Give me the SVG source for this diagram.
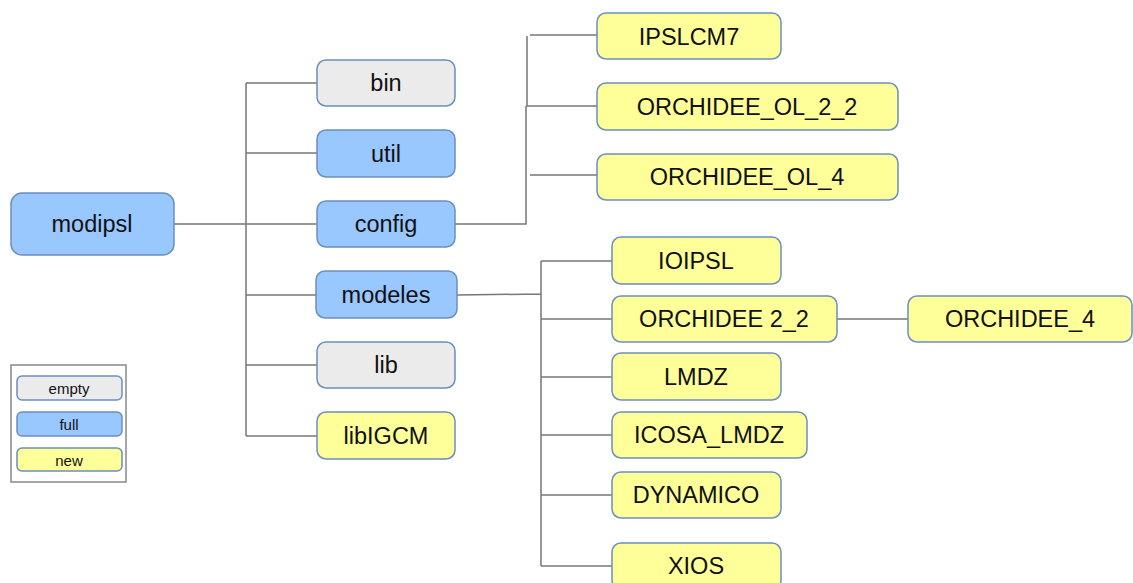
<svg xmlns="http://www.w3.org/2000/svg" width="1133" height="583" viewBox="0 0 1133 583">
<style>
.n rect{stroke:#6b8fbf;stroke-width:1.5}
.e rect{fill:#ebebeb}
.f rect{fill:#99c7ff}
.w rect{fill:#ffff99}
text{font-family:"Liberation Sans",Arial,sans-serif;font-size:23.5px;fill:#111;text-anchor:middle;dominant-baseline:central}
.lg text{font-size:15px}
#connectors path{fill:none;stroke:#777;stroke-width:1.5}
</style>
<rect width="1133" height="583" fill="#fff"/>
<g id="connectors">
<path d="M174 224H246M246 83V436M246 83H317M246 153H317M246 224H317M246 295H316M246 365H317M246 436H317"/>
<path d="M455 224H526V106M527 106V36M530 35H597M526 106H597M530 175H597"/>
<path d="M457 295L541 294M541 261V566M541 261H612M541 319H612M541 377H612M541 435H612M541 495H612M541 566H612M837 319H908"/>
</g>
<g id="modipsl" class="n f"><rect x="11" y="193" width="163" height="62" rx="11"/><text x="92" y="224">modipsl</text></g>
<g id="bin" class="n e"><rect x="317" y="60" width="138" height="46" rx="9"/><text x="386" y="83">bin</text></g>
<g id="util" class="n f"><rect x="317" y="130" width="138" height="47" rx="9"/><text x="386" y="154">util</text></g>
<g id="config" class="n f"><rect x="317" y="201" width="138" height="46" rx="9"/><text x="386" y="224">config</text></g>
<g id="modeles" class="n f"><rect x="316" y="271" width="141" height="47" rx="9"/><text x="386" y="295">modeles</text></g>
<g id="lib" class="n e"><rect x="317" y="342" width="138" height="46" rx="9"/><text x="386" y="365">lib</text></g>
<g id="libIGCM" class="n w"><rect x="317" y="412" width="138" height="47" rx="9"/><text x="386" y="436">libIGCM</text></g>
<g id="IPSLCM7" class="n w"><rect x="597" y="13" width="184" height="46" rx="9"/><text x="689" y="37">IPSLCM7</text></g>
<g id="ORCHIDEE_OL_2_2" class="n w"><rect x="597" y="83" width="301" height="47" rx="9"/><text x="747" y="107">ORCHIDEE_OL_2_2</text></g>
<g id="ORCHIDEE_OL_4" class="n w"><rect x="597" y="154" width="301" height="46" rx="9"/><text x="747" y="177">ORCHIDEE_OL_4</text></g>
<g id="IOIPSL" class="n w"><rect x="612" y="237" width="169" height="47" rx="9"/><text x="696" y="261">IOIPSL</text></g>
<g id="ORCHIDEE_2_2" class="n w"><rect x="612" y="296" width="225" height="46" rx="9"/><text x="724" y="319">ORCHIDEE 2_2</text></g>
<g id="ORCHIDEE_4" class="n w"><rect x="908" y="296" width="224" height="46" rx="9"/><text x="1020" y="319">ORCHIDEE_4</text></g>
<g id="LMDZ" class="n w"><rect x="612" y="353" width="169" height="47" rx="9"/><text x="696" y="377">LMDZ</text></g>
<g id="ICOSA_LMDZ" class="n w"><rect x="612" y="412" width="195" height="46" rx="9"/><text x="709" y="435">ICOSA_LMDZ</text></g>
<g id="DYNAMICO" class="n w"><rect x="612" y="472" width="169" height="46" rx="9"/><text x="696" y="495">DYNAMICO</text></g>
<g id="XIOS" class="n w"><rect x="612" y="543" width="169" height="46" rx="9"/><text x="696" y="566">XIOS</text></g>
<g id="legend" class="lg">
<rect x="11" y="365" width="115" height="117" fill="#fff" stroke="#888" stroke-width="1.5"/>
<g class="n e"><rect x="17" y="376" width="105" height="24" rx="5"/><text x="69" y="388">empty</text></g>
<g class="n f"><rect x="17" y="412" width="105" height="24" rx="5"/><text x="69" y="424">full</text></g>
<g class="n w"><rect x="17" y="448" width="105" height="23" rx="5"/><text x="69" y="460">new</text></g>
</g>
</svg>
